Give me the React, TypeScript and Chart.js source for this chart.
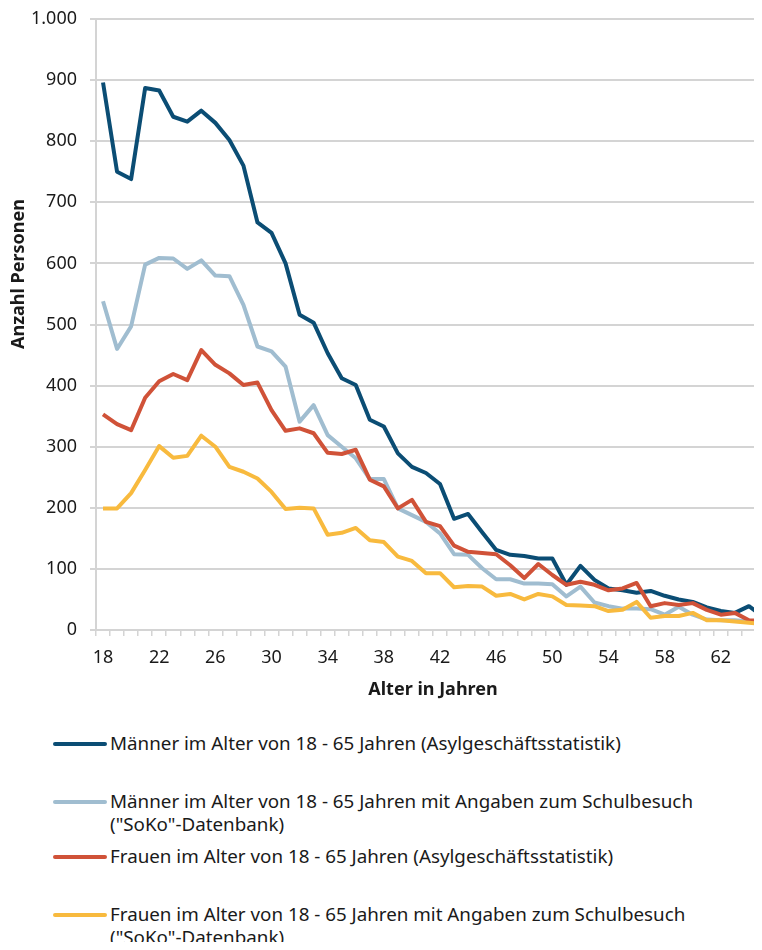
import React, { useEffect, useRef } from "react";
import { Chart, registerables } from "chart.js";

Chart.register(...registerables);

const ages = ["18","19","20","21","22","23","24","25","26","27","28","29","30","31","32","33","34","35","36","37","38","39","40","41","42","43","44","45","46","47","48","49","50","51","52","53","54","55","56","57","58","59","60","61","62","63","64","65"];

const maennerAsyl = [896,750,738,887,883,840,832,850,830,802,760,667,650,600,516,503,453,412,401,344,333,289,267,257,239,182,190,160,131,123,121,117,117,74,105,82,68,65,61,64,56,50,46,37,31,28,39,22];
const maennerSoKo = [538,460,497,598,609,608,591,605,580,579,532,464,456,431,341,368,319,300,281,247,247,199,188,177,158,124,123,101,83,83,76,76,75,55,71,45,39,35,35,34,25,38,25,17,16,16,14,13];
const frauenAsyl = [353,337,327,380,407,419,409,458,434,420,401,405,360,326,330,322,290,288,295,246,235,199,213,177,170,138,128,126,124,106,85,108,90,74,79,74,65,68,77,39,44,41,44,33,25,28,16,15];
const frauenSoKo = [199,199,224,262,301,282,285,318,300,267,259,248,226,198,200,199,156,159,167,147,144,120,113,93,93,70,72,71,56,59,50,59,55,41,40,39,31,33,46,20,23,23,28,16,16,14,12,10];

const seriesLabels = [
  "Männer im Alter von 18 - 65 Jahren (Asylgeschäftsstatistik)",
  "Männer im Alter von 18 - 65 Jahren mit Angaben zum Schulbesuch\n(\"SoKo\"-Datenbank)",
  "Frauen im Alter von 18 - 65 Jahren (Asylgeschäftsstatistik)",
  "Frauen im Alter von 18 - 65 Jahren mit Angaben zum Schulbesuch\n(\"SoKo\"-Datenbank)",
];
const seriesColors = ["#0b4d74", "#a0bdd0", "#d05238", "#f8ba3e"];
const yTitle = "Anzahl Personen";
const xTitle = "Alter in Jahren";

const FONT = "'Noto Sans', sans-serif";
const TEXT = "#1a1a1a";
const GRID = "#d4d4d4";

const legendTops = [744, 802, 857, 915];

export default function App() {
  const ref = useRef<HTMLCanvasElement | null>(null);

  useEffect(() => {
    if (!ref.current) return;
    const yTitlePlugin = {
      id: "yTitlePlugin",
      afterDraw(chart: any) {
        const ctx = chart.ctx;
        ctx.save();
        ctx.translate(19, 274);
        ctx.rotate(-Math.PI / 2);
        ctx.font = `bold 18px ${FONT}`;
        ctx.fillStyle = TEXT;
        ctx.textAlign = "center";
        ctx.textBaseline = "middle";
        ctx.fillText(yTitle, 0, 0);
        ctx.restore();
      },
    };
    const data = [maennerAsyl, maennerSoKo, frauenAsyl, frauenSoKo];
    const chart = new Chart(ref.current, {
      type: "line",
      data: {
        labels: ages,
        datasets: data.map((d, i) => ({
          label: seriesLabels[i],
          data: d,
          borderColor: seriesColors[i],
          backgroundColor: seriesColors[i],
          borderWidth: 4,
          pointRadius: 0,
          tension: 0,
          borderJoinStyle: "round" as const,
          order: 3 - i,
        })),
      },
      options: {
        animation: false,
        responsive: false,
        maintainAspectRatio: false,
        layout: { padding: { top: 19, right: 0, bottom: 0, left: 0 } },
        plugins: { legend: { display: false }, tooltip: { enabled: false } },
        scales: {
          x: {
            offset: true,
            grid: {
              offset: true,
              drawOnChartArea: false,
              drawTicks: true,
              tickLength: 6,
              color: GRID,
              lineWidth: 1.5,
            },
            border: { display: true, color: GRID, width: 2 },
            ticks: {
              autoSkip: false,
              maxRotation: 0,
              padding: 11,
              color: TEXT,
              font: { family: FONT, size: 18 },
              callback: (_v: any, i: number) => ((i % 4) === 0 ? ages[i] : ""),
            },
            title: {
              display: true,
              text: xTitle,
              color: TEXT,
              font: { family: FONT, size: 18, weight: "bold" },
              padding: { top: 0, bottom: 9 },
            },
            afterFit: (s: any) => { s.height = 80; s.paddingLeft = 0; s.paddingRight = 0; },
          },
          y: {
            min: 0,
            max: 1000,
            grid: { color: GRID, lineWidth: 2, tickLength: 6 },
            border: { display: true, color: GRID, width: 2 },
            ticks: {
              stepSize: 100,
              padding: 13,
              color: TEXT,
              font: { family: FONT, size: 18 },
              callback: (v: any) => (v >= 1000 ? "1.000" : String(v)),
            },
            afterFit: (s: any) => { s.width = 96; s.paddingTop = 0; s.paddingBottom = 0; },
          },
        },
      },
      plugins: [yTitlePlugin],
    });
    return () => chart.destroy();
  }, []);

  return (
    <div style={{ position: "relative", width: 762, height: 950, overflow: "hidden", margin: -8, fontFamily: FONT, color: TEXT }}>
      <div style={{ position: "absolute", left: 0, top: 0, width: 770, height: 710 }}>
        <canvas ref={ref} width={770} height={710} style={{ width: 770, height: 710, display: "block" }} />
      </div>
      {seriesLabels.map((lab, i) => (
        <div key={i} style={{ position: "absolute", left: 0, top: legendTops[i] - 12, width: 762 }}>
          <div style={{ position: "absolute", left: 53, top: 10, width: 54, height: 4, borderRadius: 2, background: seriesColors[i] }} />
          <div style={{ position: "absolute", left: 110, top: 0, fontSize: 18.8, lineHeight: "23px", whiteSpace: "pre-line" }}>{lab}</div>
        </div>
      ))}
    </div>
  );
}
